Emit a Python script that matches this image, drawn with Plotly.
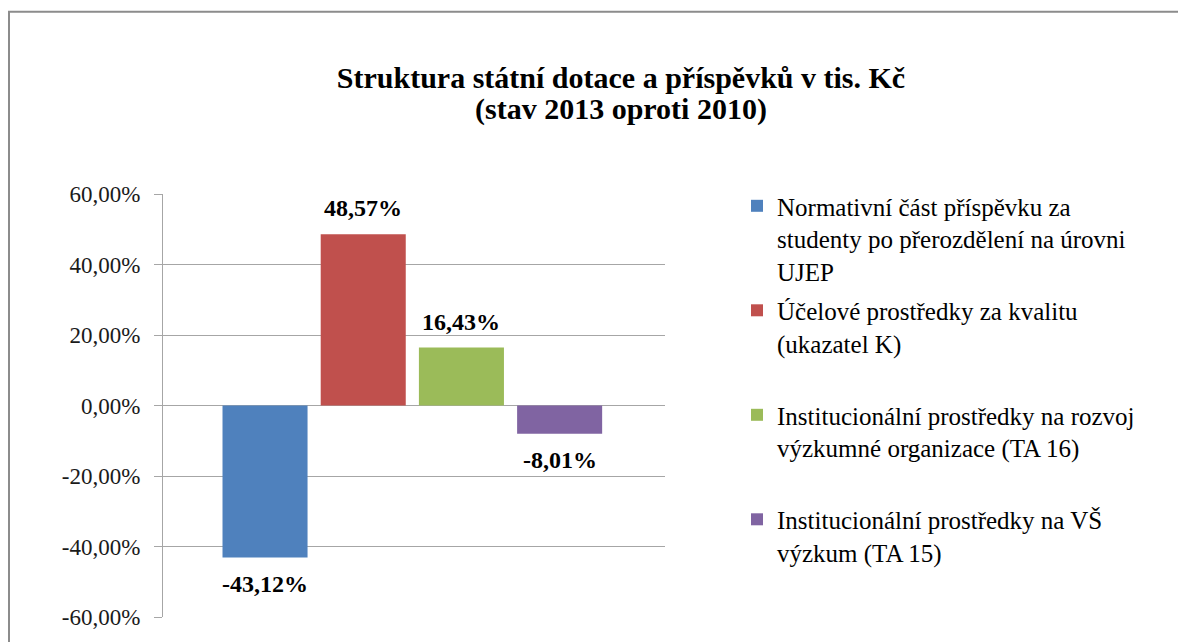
import plotly.graph_objects as go

# ---- data ----
series_names = [
    "Normativní část příspěvku za<br>studenty po přerozdělení na úrovni<br>UJEP",
    "Účelové prostředky za kvalitu<br>(ukazatel K)<br> ",
    "Institucionální prostředky na rozvoj<br>výzkumné organizace (TA 16)<br> ",
    "Institucionální prostředky na VŠ<br>výzkum (TA 15)<br> ",
]
values = [-0.4312, 0.4857, 0.1643, -0.0801]
colors = ["#4F81BD", "#C0504D", "#9BBB59", "#8064A2"]
y_ticks = [-0.6, -0.4, -0.2, 0.0, 0.2, 0.4, 0.6]
y_tick_labels = ["-60,00%", "-40,00%", "-20,00%", "0,00%", "20,00%", "40,00%", "60,00%"]
title_lines = ["Struktura státní dotace a příspěvků v tis. Kč", "(stav 2013 oproti 2010)"]

# page body has an 8px margin, so the figure is 8px smaller than the window
W, H = 1178, 634
ml, mr, mt, mb = 155, W - 657, 186, H - 611
pw, ph = W - ml - mr, H - mt - mb

SERIF = "Liberation Serif, Times New Roman, serif"

fig = go.Figure()
for i, (name, v, c) in enumerate(zip(series_names, values, colors)):
    fig.add_trace(go.Bar(
        x=[i], y=[v], name=name, width=0.866,
        marker=dict(color=c, line=dict(width=0)),
        legendgroup=f"g{i}",
        hoverinfo="y",
    ))
    fig.add_annotation(
        x=i, y=v, xref="x", yref="y",
        text=f"<b>{v*100:.2f}%</b>".replace(".", ","),
        showarrow=False,
        yanchor="bottom" if v >= 0 else "top",
        yshift=11 if v >= 0 else -11,
        font=dict(family=SERIF, size=24, color="#000000"),
    )

# second title line
fig.add_annotation(
    xref="paper", yref="paper",
    x=(613 - ml) / pw, y=1 + (mt - 101) / ph,
    xanchor="center", yanchor="middle",
    text="<b>" + title_lines[1] + "</b>", showarrow=False,
    font=dict(family=SERIF, size=30, color="#000000"),
)

# outer frame (Excel chart area border)
fig.add_shape(
    type="rect", xref="paper", yref="paper",
    x0=(1 - ml) / pw, x1=(W + 20 - ml) / pw,
    y0=-(mb + 20) / ph, y1=1 + (mt - 3) / ph,
    line=dict(color="#8C8C8C", width=2), fillcolor="rgba(0,0,0,0)", layer="below",
)

fig.update_layout(
    width=W, height=H,
    margin=dict(l=ml, r=mr, t=mt, b=mb, pad=0),
    paper_bgcolor="white", plot_bgcolor="white",
    separators=", ",
    barmode="overlay",
    title=dict(
        text="<b>" + title_lines[0] + "</b>",
        x=613 / W, xanchor="center", xref="container",
        y=1 - 69 / H, yanchor="middle", yref="container",
        font=dict(family=SERIF, size=30, color="#000000"),
    ),
    font=dict(family=SERIF, color="#000000"),
    legend=dict(
        x=1 + (729 - 657) / pw, xanchor="left",
        y=1 - (175 - mt) / ph, yanchor="top",
        font=dict(family=SERIF, size=25, color="#000000"),
        tracegroupgap=4, valign="top",
        bgcolor="rgba(0,0,0,0)",
        maxheight=620,
    ),
    xaxis=dict(
        range=[-1.039, 4.073], showticklabels=False, showgrid=False,
        zeroline=False, showline=False, ticks="", fixedrange=True,
    ),
    yaxis=dict(
        range=[-0.6, 0.6], tickvals=y_ticks, ticktext=y_tick_labels,
        showgrid=True, gridcolor="#A6A6A6", gridwidth=1,
        zeroline=True, zerolinecolor="#A6A6A6", zerolinewidth=1,
        showline=True, linecolor="#A6A6A6", linewidth=1,
        ticks="outside", ticklen=8, tickcolor="#A6A6A6",
        ticklabelstandoff=9,
        tickfont=dict(family=SERIF, size=23, color="#1A1A1A"),
        fixedrange=True,
    ),
)

fig.write_html("out.html")
